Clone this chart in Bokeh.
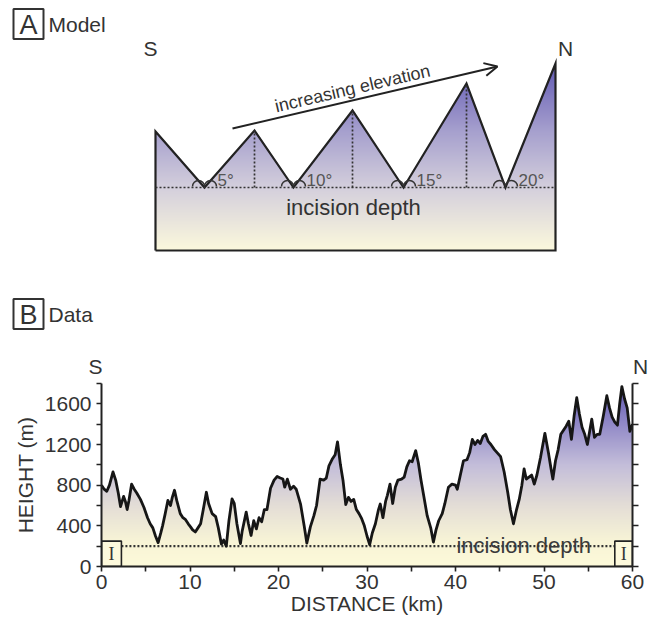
import numpy as np
from bokeh.plotting import figure
from bokeh.layouts import column
from bokeh.models import Range1d, LinearAxis, FixedTicker, Arrow, OpenHead
from bokeh.embed import file_html
from bokeh.resources import INLINE
from bokeh.core.properties import value

FONT = "Liberation Sans"
INK = "#222222"
W = 656

# ---------------- Panel B: measured profile ----------------
distance_km = [0.0, 0.3, 0.6, 0.9, 1.3, 1.6, 1.9, 2.15, 2.5, 2.7, 2.9, 3.1, 3.4, 3.7, 4.0, 4.4, 4.8, 5.2,
               5.5, 5.8, 6.1, 6.4, 6.7, 6.9, 7.2, 7.5, 7.8, 8.0, 8.25, 8.5, 8.9, 9.2, 9.5, 9.8, 10.06,
               10.3, 10.6, 10.9, 11.2, 11.5, 11.85, 12.1, 12.5, 12.9, 13.2, 13.55, 13.8, 14.1, 14.4,
               14.75, 15.0, 15.3, 15.7, 15.9, 16.35, 16.6, 16.9, 17.2, 17.5, 17.8, 18.1, 18.4, 18.7,
               19.1, 19.5, 19.85, 20.2, 20.5, 20.7, 21.0, 21.35, 21.7, 22.0, 22.5, 22.9, 23.2, 23.6,
               24.0, 24.3, 24.7, 25.1, 25.4, 25.7, 26.1, 26.4, 26.67, 27.0, 27.3, 27.6, 27.9, 28.2,
               28.5, 28.8, 29.1, 29.4, 29.7, 30.0, 30.3, 30.6, 30.95, 31.3, 31.5, 31.8, 32.1, 32.3,
               32.6, 32.9, 33.2, 33.5, 33.9, 34.2, 34.5, 34.8, 35.1, 35.5, 35.8, 36.1, 36.4, 36.8,
               37.2, 37.5, 37.8, 38.1, 38.5, 38.8, 39.2, 39.6, 40.0, 40.2, 40.5, 40.9, 41.3, 41.6,
               41.9, 42.2, 42.5, 42.8, 43.1, 43.4, 43.7, 44.0, 44.4, 44.8, 45.1, 45.5, 45.9, 46.2,
               46.55, 46.9, 47.2, 47.5, 47.75, 48.0, 48.3, 48.6, 48.9, 49.2, 49.6, 50.1, 50.5, 50.8,
               51.0, 51.3, 51.6, 51.9, 52.2, 52.5, 52.8, 53.1, 53.4, 53.7, 54.0, 54.3, 54.6, 54.9,
               55.2, 55.4, 55.7, 56.0, 56.3, 56.7, 57.1, 57.4, 57.7, 58.0, 58.3, 58.55, 58.8, 59.1,
               59.4, 59.7, 60.0]
height_m = [800, 760, 740, 800, 930, 850, 720, 590, 690, 640, 560, 650, 810, 760, 720, 660, 580, 480,
            420, 380, 300, 235, 330, 400, 520, 650, 600, 680, 750, 650, 520, 480, 460, 420, 390,
            360, 340, 380, 420, 560, 730, 620, 520, 490, 380, 220, 260, 200, 450,
            665, 620, 420, 225, 350, 535, 420, 305, 450, 370, 480, 440, 560, 560,
            770, 850, 885, 870, 860, 780, 860, 760, 790, 760, 610, 400, 230, 390,
            500, 600, 860, 850, 870, 990, 1060, 1100, 1226, 1000, 840, 610, 680, 640,
            660, 560, 520, 470, 400, 300, 215, 330, 420, 560, 615, 480, 640, 700,
            810, 620, 780, 850, 860, 880, 980, 1040, 1030, 1140, 1020, 850, 700, 500,
            380, 240, 360, 450, 520, 620, 780, 810, 800, 760, 880, 1040, 1050, 1120,
            1250, 1200, 1240, 1210, 1280, 1300, 1230, 1200, 1150, 1110, 1080, 930, 730, 560,
            420, 560, 660, 800, 960, 860, 880, 900, 810, 900, 1070, 1310, 1120, 960,
            860, 1040, 1150, 1300, 1340, 1380, 1430, 1250, 1480, 1660, 1500, 1370, 1300, 1200,
            1350, 1450, 1270, 1300, 1300, 1480, 1680, 1560, 1470, 1420, 1390, 1600, 1770, 1650,
            1560, 1330, 1400]
incision_depth_m = 200
marker_top_m = 250
marker_left_km = [0.0, 58.0]
marker_right_km = [2.25, 60.0]
x_ticks = [0, 10, 20, 30, 40, 50, 60]
x_minor = [5, 15, 25, 35, 45, 55]
y_ticks = [0, 400, 800, 1200, 1600]
y_minor = [200, 600, 1000, 1400, 1800]
y_all = [0, 200, 400, 600, 800, 1000, 1200, 1400, 1600, 1800]

# ---------------- Panel A: schematic model ----------------
model_x = [0, 49, 99, 138, 197, 248, 311, 350, 400]
model_y = [119, 63, 120, 63, 140, 63, 167, 63, 187]
model_incision = 63
valley_x = [49, 138, 248, 350]
peak_x = [99, 197, 311]
peak_y = [120, 140, 167]
slope_labels = ["5°", "10°", "15°", "20°"]

gradB_h = [0, 250, 600, 1000, 1400, 1800]
gradB_rgb = [(253, 250, 218), (248, 244, 214), (228, 222, 214), (196, 190, 218), (146, 138, 200), (96, 88, 178)]
gradA_h = [0, 63, 120, 187]
gradA_rgb = [(252, 249, 220), (212, 207, 220), (166, 160, 206), (98, 90, 180)]


def gradient_image(px, py, x0, x1, y0, y1, nx, ny, stops_h, stops_rgb):
    xs = np.linspace(x0, x1, nx)
    ys = np.linspace(y0, y1, ny)
    top = np.interp(xs, px, py)
    img = np.zeros((ny, nx), dtype=np.uint32)
    view = img.view(dtype=np.uint8).reshape((ny, nx, 4))
    for i in range(3):
        ch = np.interp(ys, stops_h, [c[i] for c in stops_rgb])
        view[:, :, i] = ch[:, None].astype(np.uint8)
    view[:, :, 3] = np.where(ys[:, None] <= top[None, :], 255, 0).astype(np.uint8)
    return img


# ================= Figure A (schematic + panel headings) =================
HA = 380
pA = figure(width=W, height=HA, x_range=Range1d(-155, W - 155), y_range=Range1d(250 - HA, 250),
            output_backend="svg", toolbar_location=None, min_border=0, frame_align=False,
            x_axis_type=None, y_axis_type=None)
pA.grid.visible = False
pA.outline_line_color = None

imgA = gradient_image(model_x, model_y, model_x[0], model_x[-1], 0, max(model_y), 800, 380, gradA_h, gradA_rgb)
pA.image_rgba(image=[imgA], x=model_x[0], y=0, dw=model_x[-1] - model_x[0], dh=max(model_y))

outline_x = [model_x[0]] + model_x + [model_x[-1], model_x[0]]
outline_y = [0] + model_y + [0, 0]
pA.line(outline_x, outline_y, line_color=INK, line_width=2.2, line_join="miter")

pA.line([model_x[0], model_x[-1]], [model_incision, model_incision], line_color="#333333",
        line_width=1.7, line_dash="2 2")
pA.segment(x0=peak_x, y0=[model_incision] * len(peak_x), x1=peak_x, y1=peak_y,
           line_color="#333333", line_width=1.7, line_dash="2 2")

arc_x = [v - 6 for v in valley_x] + [v + 6 for v in valley_x]
pA.arc(x=arc_x, y=[model_incision + 1] * len(arc_x), radius=6, start_angle=0, end_angle=np.pi,
       line_color="#333333", line_width=1.5)
pA.text(x=[v + 13 for v in valley_x], y=[model_incision + 7] * len(valley_x), text=slope_labels,
        text_font=value(FONT), text_font_size="17px", text_color="#555555",
        text_align="left", text_baseline="middle")

pA.text(x=[198], y=[43], text=["incision depth"], text_font=value(FONT), text_font_size="22px",
        text_color="#333333", text_align="center", text_baseline="middle")

pA.add_layout(Arrow(end=OpenHead(size=13, line_width=2, line_color=INK),
                    x_start=77, y_start=122, x_end=342, y_end=184, line_width=2, line_color=INK))
pA.text(x=[197], y=[162], text=["increasing elevation"], angle=float(np.arctan2(62, 265)),
        text_font=value(FONT), text_font_size="18px", text_color="#333333",
        text_align="center", text_baseline="middle")

# S / N for the model and for the data profile
pA.text(x=[-5, 410, -60, 485], y=[202, 202, -116, -116], text=["S", "N", "S", "N"],
        text_font=value(FONT), text_font_size="21px",
        text_color="#333333", text_align="center", text_baseline="middle")

# panel letters
pA.rect(x=[-127, -127], y=[226.5, -63.5], width=30, height=30, width_units="screen", height_units="screen",
        fill_color=None, line_color="#333333", line_width=2)
pA.text(x=[-127, -127], y=[225.5, -64.5], text=["A", "B"], text_font=value(FONT), text_font_size="27px",
        text_color="#333333", text_align="center", text_baseline="middle")
pA.text(x=[-107, -107], y=[226.5, -63.5], text=["Model", "Data"], text_font=value(FONT),
        text_font_size="21px", text_color="#333333", text_align="left", text_baseline="middle")

# ================= Figure B (data) =================
HB = 244
pB = figure(width=W, height=HB, x_range=Range1d(0, 60), y_range=Range1d(0, 1800),
            output_backend="svg", toolbar_location=None, frame_align=False,
            min_border_left=101, min_border_right=W - 632, min_border_top=3, min_border_bottom=58)
pB.grid.visible = False
pB.outline_line_color = None

imgB = gradient_image(distance_km, height_m, 0, 60, 0, 1800, 1100, 400, gradB_h, gradB_rgb)
pB.image_rgba(image=[imgB], x=0, y=0, dw=60, dh=1800)

pB.line([marker_right_km[0], marker_left_km[1]], [incision_depth_m, incision_depth_m],
        line_color="#333333", line_width=2.2, line_dash="2 2")
pB.line(distance_km, height_m, line_color="#161616", line_width=2.8, line_join="round")

pB.quad(left=marker_left_km, right=marker_right_km, bottom=[0, 0], top=[marker_top_m] * 2,
        fill_color="#fdf9dc", line_color=INK, line_width=1.6)
pB.text(x=[(l + r) / 2 for l, r in zip(marker_left_km, marker_right_km)], y=[marker_top_m / 2] * 2,
        text=["I", "I"], text_font=value("Liberation Serif"), text_font_size="18px",
        text_color="#333333", text_align="center", text_baseline="middle")

pB.text(x=[47.7], y=[205], text=["incision depth"], text_font=value(FONT), text_font_size="22px",
        text_color="#3a3a3a", text_align="center", text_baseline="alphabetic")

for ax in [pB.xaxis[0], pB.yaxis[0]]:
    ax.axis_line_width = 2
    ax.axis_line_color = INK
    ax.major_tick_line_color = INK
    ax.minor_tick_line_color = INK
    ax.major_tick_line_width = 1.6
    ax.minor_tick_line_width = 1.6
    ax.major_tick_in = 0
    ax.minor_tick_in = 0
    ax.major_tick_out = 5
    ax.minor_tick_out = 5
    ax.major_label_text_font = FONT
    ax.major_label_text_font_size = "21px"
    ax.major_label_text_color = "#333333"
    ax.axis_label_text_font = FONT
    ax.axis_label_text_font_size = "21px"
    ax.axis_label_text_font_style = "normal"
    ax.axis_label_text_color = "#333333"

pB.xaxis[0].ticker = FixedTicker(ticks=x_ticks, minor_ticks=x_minor)
pB.xaxis[0].axis_label = "DISTANCE (km)"
pB.xaxis[0].major_label_standoff = 3
pB.xaxis[0].axis_label_standoff = 0
pB.yaxis[0].ticker = FixedTicker(ticks=y_ticks, minor_ticks=y_minor)
pB.yaxis[0].axis_label = "HEIGHT (m)"
pB.yaxis[0].major_label_standoff = 5
pB.yaxis[0].axis_label_standoff = 5

right = LinearAxis(ticker=FixedTicker(ticks=y_all, minor_ticks=[]),
                   major_label_overrides={t: "" for t in y_all},
                   axis_line_width=2, axis_line_color=INK, major_tick_line_color=INK,
                   major_tick_line_width=1.6, major_tick_in=0, major_tick_out=6,
                   major_label_standoff=0)
pB.add_layout(right, "right")

layout = column(pA, pB)
open("out.html", "w").write(file_html(layout, INLINE))
